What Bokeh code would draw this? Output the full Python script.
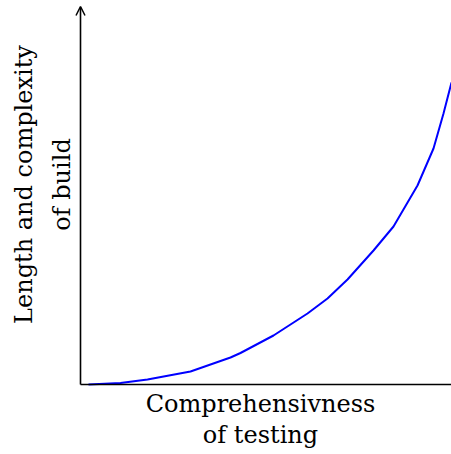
from bokeh.plotting import figure
from bokeh.models import Range1d, Arrow, OpenHead, Label
from bokeh.embed import file_html
from bokeh.resources import INLINE
import math

# Data (x: comprehensiveness of testing, y: length/complexity of build), in plot units
testing = [8, 40, 67, 110, 150, 160, 193, 227, 247, 267, 293, 313, 337, 353, 363, 371]
build = [0, 1.5, 5, 13, 27, 31.5, 49, 71, 86, 105, 134, 158, 199, 236, 271, 302]

x_label_lines = ["Comprehensivness", "of testing"]
y_label_lines = ["Length and complexity", "of build"]

p = figure(width=451, height=454, output_backend="svg", toolbar_location=None,
           x_range=Range1d(-80, 371), y_range=Range1d(-70, 384),
           min_border_left=0, min_border_right=0, min_border_top=0, min_border_bottom=0)
p.xaxis.visible = False
p.yaxis.visible = False
p.grid.visible = False
p.outline_line_color = None
p.background_fill_color = "white"
p.border_fill_color = "white"

p.line(testing, build, line_color="#0000ff", line_width=2, line_join="round")

# axes
p.segment(x0=[0], y0=[0], x1=[380], y1=[0], line_color="black", line_width=1.6)
p.add_layout(Arrow(end=OpenHead(size=9, line_width=1.5, line_color="black"),
                   x_start=0, y_start=0, x_end=0, y_end=378,
                   line_color="black", line_width=1.6))

font = "DejaVu Serif"
fs = "24px"
x_base = [-19, -50]
for t, yb in zip(x_label_lines, x_base):
    p.add_layout(Label(x=180, y=yb, text=t, text_align="center", text_baseline="alphabetic",
                       text_font=font, text_font_size=fs, text_color="black"))
y_base = [-57, -19]
for t, xb in zip(y_label_lines, y_base):
    p.add_layout(Label(x=xb, y=200, text=t, angle=math.pi / 2, text_align="center",
                       text_baseline="alphabetic",
                       text_font=font, text_font_size=fs, text_color="black"))

open("out.html", "w").write(file_html(p, INLINE))
